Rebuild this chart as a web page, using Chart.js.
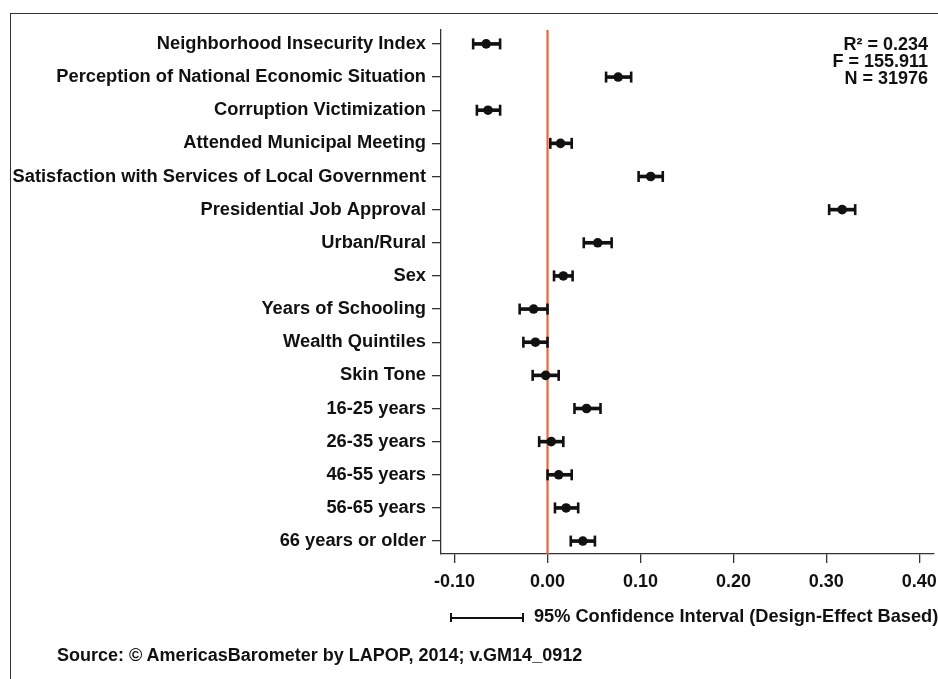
<!DOCTYPE html>
<html>
<head>
<meta charset="utf-8">
<script src="https://cdn.jsdelivr.net/npm/chart.js@4"></script>
<style>
  body { margin: 0; background: #fff; font-family: "Liberation Sans", Arial, sans-serif; }
  #wrap { position: relative; width: 938px; height: 679px; overflow: hidden; }
  #frame { position: absolute; left: 10px; top: 13px; width: 940px; height: 680px;
           border-left: 1.5px solid #333; border-top: 1.5px solid #333; }
  .txt { position: absolute; font-weight: bold; color: #111; white-space: nowrap; font-size: 18px; }
  #stats { right: 10px; top: 36px; line-height: 17px; text-align: right; }
  #legend { left: 450px; top: 606px; font-size: 18.2px; }
  #legend .bar { display: inline-block; width: 70px; height: 9px; position: relative;
                 border-left: 2px solid #111; border-right: 2px solid #111; vertical-align: 0px; margin-right: 10px; }
  #legend .bar:after { content: ""; position: absolute; left: 0; right: 0; top: 4px; height: 2px; background: #111; }
  #source { left: 57px; top: 645px; }
</style>
</head>
<body>
<div id="wrap">
  <div id="frame"></div>
  <canvas id="myChart" width="938" height="679"></canvas>
  <div class="txt" id="stats">R² = 0.234<br>F = 155.911<br>N = 31976</div>
  <div class="txt" id="legend"><span class="bar"></span>95% Confidence Interval (Design-Effect Based)</div>
  <div class="txt" id="source">Source: © AmericasBarometer by LAPOP, 2014; v.GM14_0912</div>
</div>
<script>
const categories = [
    'Neighborhood Insecurity Index',
    'Perception of National Economic Situation',
    'Corruption Victimization',
    'Attended Municipal Meeting',
    'Satisfaction with Services of Local Government',
    'Presidential Job Approval',
    'Urban/Rural',
    'Sex',
    'Years of Schooling',
    'Wealth Quintiles',
    'Skin Tone',
    '16-25 years',
    '26-35 years',
    '46-55 years',
    '56-65 years',
    '66 years or older'
];
const coef  = [-0.066, 0.076, -0.064, 0.014, 0.111, 0.317, 0.054, 0.017, -0.015, -0.013, -0.002, 0.042, 0.004, 0.012, 0.020, 0.038];
const ciLow = [-0.080, 0.063, -0.076, 0.003, 0.098, 0.303, 0.039, 0.007, -0.030, -0.026, -0.016, 0.029, -0.009, 0.000, 0.008, 0.025];
const ciHigh= [-0.051, 0.090, -0.051, 0.026, 0.124, 0.331, 0.069, 0.027, 0.000, 0.000, 0.012, 0.057, 0.017, 0.026, 0.033, 0.051];
const xTicks = [-0.10, 0.00, 0.10, 0.20, 0.30, 0.40];

const FONT = '"Liberation Sans", Arial, sans-serif';
const INK = '#111';

// orange reference line at zero
const zeroLine = {
    id: 'zeroLine',
    beforeDatasetsDraw(chart) {
        const x = chart.scales.x.getPixelForValue(0);
        const ctx = chart.ctx;
        ctx.save();
        ctx.strokeStyle = '#E8673C';
        ctx.lineWidth = 2.2;
        ctx.beginPath();
        ctx.moveTo(x, chart.chartArea.top);
        ctx.lineTo(x, chart.chartArea.bottom);
        ctx.stroke();
        ctx.restore();
    }
};

const ctx = document.getElementById('myChart');

new Chart(ctx, {
    type: 'bar',
    data: {
        datasets: [{
            // CI whiskers
            data: categories.map((c, i) => ({ x: [ciLow[i], ciHigh[i]], y: i })),
            backgroundColor: INK,
            barThickness: 3,
            order: 3
        }, {
            // caps
            type: 'line',
            showLine: false,
            data: categories.map((c, i) => ({ x: ciLow[i], y: i }))
                .concat(categories.map((c, i) => ({ x: ciHigh[i], y: i }))),
            pointStyle: 'line',
            rotation: 90,
            radius: 5.5,
            borderWidth: 2.6,
            borderColor: INK,
            order: 2
        }, {
            // point estimates
            type: 'line',
            showLine: false,
            data: categories.map((c, i) => ({ x: coef[i], y: i })),
            pointStyle: 'circle',
            radius: 4.8,
            backgroundColor: INK,
            borderColor: INK,
            borderWidth: 0,
            order: 1
        }]
    },
    options: {
        indexAxis: 'y',
        animation: false,
        responsive: false,
        events: [],
        layout: { autoPadding: false, padding: { top: 30, right: 4, left: 0, bottom: 0 } },
        plugins: { legend: { display: false }, tooltip: { enabled: false } },
        scales: {
            x: {
                type: 'linear',
                min: -0.1146,
                max: 0.4158,
                afterFit(s) { s.height = 125; s.paddingLeft = 0; s.paddingRight = 0; },
                afterBuildTicks(s) { s.ticks = xTicks.map(v => ({ value: v })); },
                ticks: {
                    color: INK,
                    font: { family: FONT, size: 18, weight: 'bold' },
                    padding: 8,
                    maxRotation: 0,
                    callback: v => v.toFixed(2)
                },
                grid: { drawOnChartArea: false, tickLength: 9, color: '#333', lineWidth: 1.3 },
                border: { display: true, color: '#333', width: 1.3 }
            },
            y: {
                type: 'linear',
                reverse: true,
                offset: false,
                min: -0.42,
                max: 15.39,
                afterFit(s) { s.width = 441; s.paddingTop = 0; s.paddingBottom = 0; },
                afterBuildTicks(s) { s.ticks = categories.map((c, i) => ({ value: i })); },
                ticks: {
                    color: INK,
                    autoSkip: false,
                    font: { family: FONT, size: 18.3, weight: 'bold' },
                    padding: 6,
                    callback: v => categories[v]
                },
                grid: { offset: false, drawOnChartArea: false, tickLength: 9, color: '#333', lineWidth: 1.3 },
                border: { display: true, color: '#333', width: 1.3 }
            }
        }
    },
    plugins: [zeroLine]
});
</script>
</body>
</html>
